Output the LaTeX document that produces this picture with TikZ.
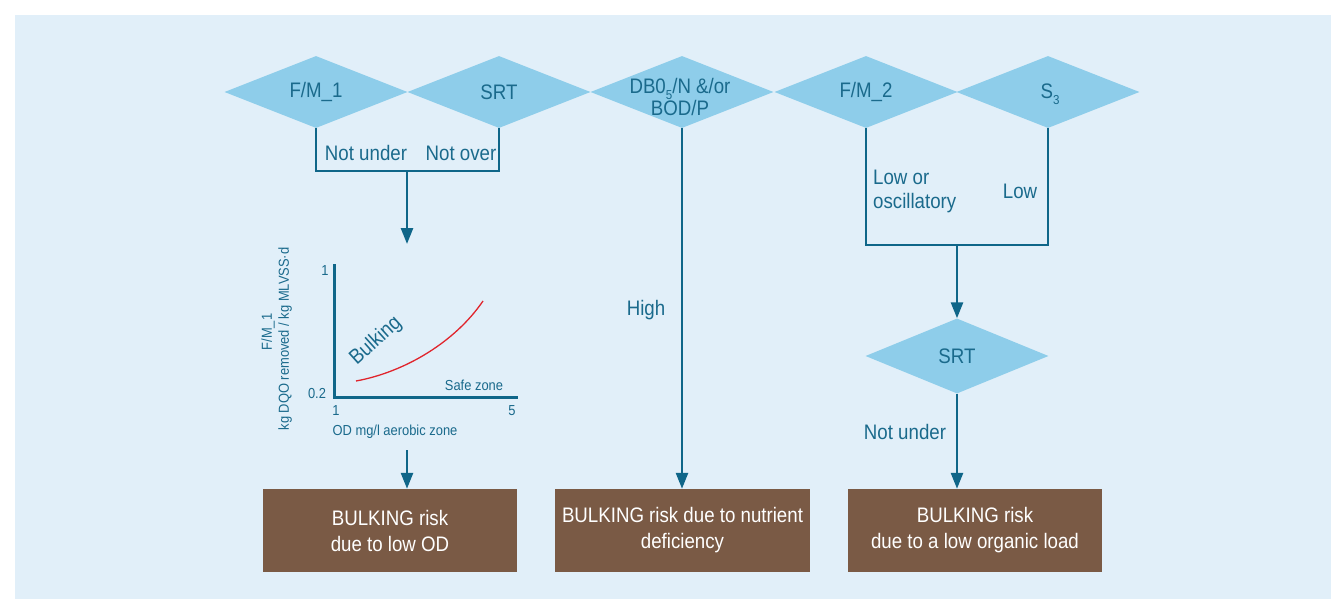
\documentclass[tikz,border=0pt]{standalone}
\usepackage{fontspec}
\setmainfont[FakeStretch=0.89]{Liberation Sans}
\usetikzlibrary{shapes.geometric,arrows.meta}
\definecolor{bgc}{HTML}{E1EFF9}
\definecolor{dia}{HTML}{8ECDEA}
\definecolor{ln}{HTML}{0F6689}
\definecolor{txt}{HTML}{1A6A8C}
\definecolor{brn}{HTML}{7A5A45}
\definecolor{crv}{HTML}{E0242C}
\begin{document}
\begin{tikzpicture}[x=1pt,y=-1pt,
 decision/.style={diamond,fill=dia,draw=none,minimum width=183pt,minimum height=72pt,inner sep=0pt,shape aspect=2.54},
 lbl/.style={text=txt,font=\fontsize{21}{22}\selectfont,inner sep=0pt},
 small/.style={text=txt,font=\fontsize{14.5}{15}\selectfont,inner sep=0pt},
 conn/.style={draw=ln,line width=2.6pt},
 arr/.style={conn,-{Triangle[width=12pt,length=16pt]}},
 outcome/.style={fill=brn,minimum width=254pt,minimum height=83pt,text=white,font=\fontsize{21}{26}\selectfont,align=center,inner sep=0pt}]
\useasboundingbox (0,0) rectangle (1331,599);
\fill[white] (0,0) rectangle (1331,599);
\fill[bgc] (15,15) rectangle (1331,599);

% top row of decisions
\node[decision] (fm1) at (316,92) {};
\node[decision] (srt1) at (499,92) {};
\node[decision] (dbo) at (682,92) {};
\node[decision] (fm2) at (866,92) {};
\node[decision] (s3) at (1048,92) {};
\node[lbl] (fm1t) at (fm1) {F/M\_1};
\node[lbl] (srt1t) at (srt1) {SRT};
\node[lbl,align=center,font=\fontsize{21}{20}\selectfont] (dbot) at (680,97) {DB0\raisebox{-6pt}{\fontsize{13}{13}\selectfont 5}/N \&/or\\BOD/P};
\node[lbl] (fm2t) at (fm2) {F/M\_2};
\node[lbl] (s3t) at (1050,94) {S\raisebox{-6pt}{\fontsize{13}{13}\selectfont 3}};

% left branch
\coordinate (j1) at (407,171);
\coordinate (c1) at (407,244);
\draw[conn] (fm1.south) |- (j1) -| (srt1.south);
\draw[arr] (j1) -- (c1);
\node[lbl] (nu1) at (366,153) {Not under};
\node[lbl] (no1) at (461,153) {Not over};

% chart
\coordinate (ytop) at (334,264);
\coordinate (o) at (334,397);
\coordinate (xend) at (518,397);
\draw[conn,line width=3pt] (ytop) -- (o) -- (xend);
\draw[crv,line width=1.3pt] (356,381) .. controls (405,372) and (455,342) .. (483,301);
\node[small] (y1) at (325,271) {1};
\node[small] (y02) at (317,394) {0.2};
\node[small] (x1) at (336,411) {1};
\node[small] (x5) at (512,411) {5};
\node[small] (xl) at (395,432) {OD mg/l aerobic zone};
\node[small,rotate=90] (yl1) at (268,332) {F/M\_1};
\node[small,rotate=90] (yl2) at (285,339) {kg DQO removed / kg MLVSS·d};
\node[lbl,rotate=42] (bk) at (376,341) {Bulking};
\node[small] (sz) at (474,385) {Safe zone};

% outcomes
\node[outcome] (b1) at (390,530.5) {BULKING risk\\due to low OD};
\node[outcome,minimum width=255pt] (b2) at (682.5,530.5) {BULKING risk due to nutrient\\deficiency};
\node[outcome] (b3) at (975,530.5) {BULKING risk\\due to a low organic load};

\coordinate (c2) at (407,450);
\draw[arr] (c2) -- (b1.north -| c2);

% middle branch
\draw[arr] (dbo.south) -- (b2.north -| dbo.south);
\node[lbl] (hi) at (646,310) {High};

% right branch
\coordinate (j2) at (957,245);
\draw[conn] (fm2.south) |- (j2) -| (s3.south);
\node[lbl,align=left,anchor=west,font=\fontsize{21}{24}\selectfont] (lo1) at (873,191) {Low or\\oscillatory};
\node[lbl] (lo2) at (1020,191) {Low};
\node[decision,minimum height=75pt] (srt2) at (957,356) {};
\node[lbl] (srt2t) at (srt2) {SRT};
\draw[arr] (j2) -- (srt2.north);
\draw[arr] (srt2.south) -- (b3.north -| srt2.south);
\node[lbl] (nu2) at (905,432) {Not under};
\end{tikzpicture}
\end{document}
